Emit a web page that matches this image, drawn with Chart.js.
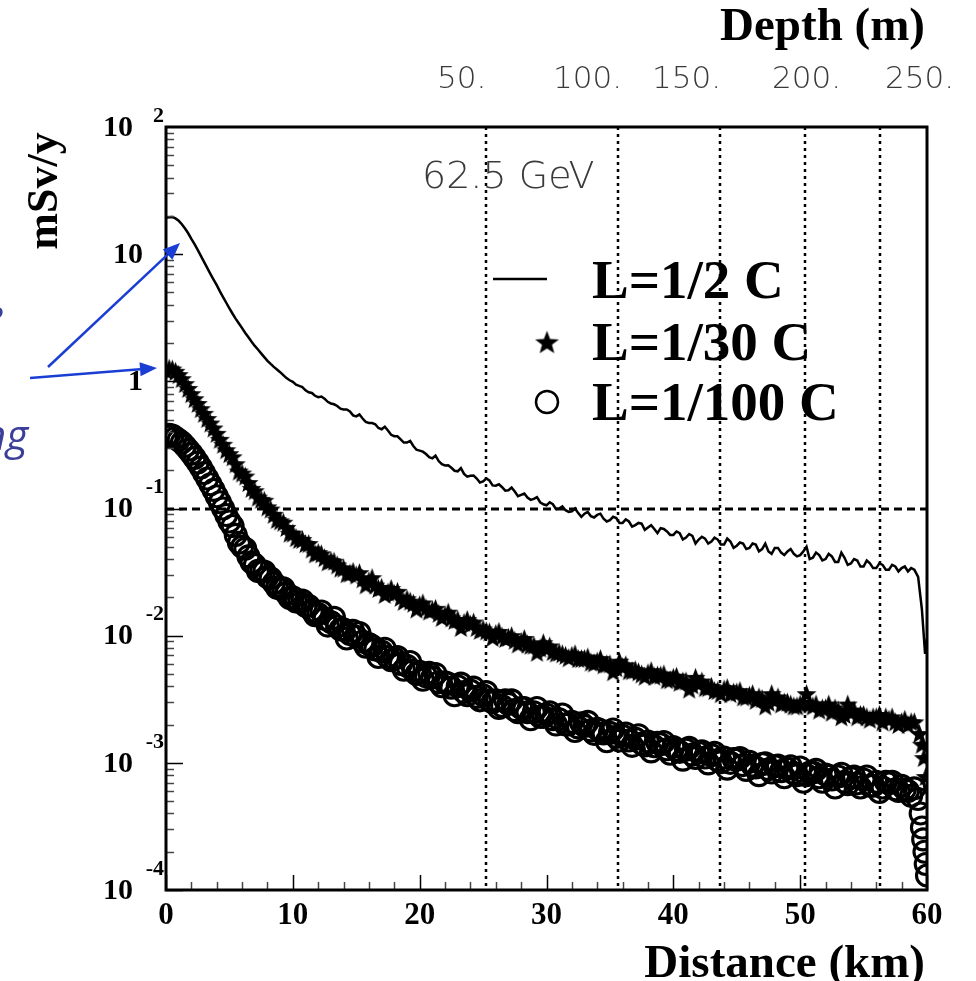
<!DOCTYPE html>
<html><head><meta charset="utf-8">
<script src="https://cdn.jsdelivr.net/npm/chart.js@4.4.1/dist/chart.umd.min.js"></script>
<style>html,body{margin:0;padding:0;background:#fff;overflow:hidden}canvas{display:block}</style>
</head><body>
<canvas id="c" width="976" height="981"></canvas>
<script>
// ---- data ----
const seriesNames = ['L=1/2 C', 'L=1/30 C', 'L=1/100 C'];
const distanceKm = [
 0,0.5,1,1.5,2,2.5,3,3.5,4,4.5,5,5.5,6,6.5,7,7.5,8,8.5,9,9.5,
 10,10.5,11,11.5,12,12.5,13,13.5,14,14.5,15,15.5,16,16.5,17,17.5,18,18.5,19,19.5,
 20,20.5,21,21.5,22,22.5,23,23.5,24,24.5,25,25.5,26,26.5,27,27.5,28,28.5,29,29.5,
 30,30.5,31,31.5,32,32.5,33,33.5,34,34.5,35,35.5,36,36.5,37,37.5,38,38.5,39,39.5,
 40,40.5,41,41.5,42,42.5,43,43.5,44,44.5,45,45.5,46,46.5,47,47.5,48,48.5,49,49.5,
 50,50.5,51,51.5,52,52.5,53,53.5,54,54.5,55,55.5,56,56.5,57,57.5,58,58.5,59];
const distanceKmB = [
 0.25,0.75,1.25,1.75,2.25,2.75,3.25,3.75,4.25,4.75,5.25,5.75,6.25,6.75,7.25,7.75,8.25,8.75,9.25,9.75,
 10.25,10.75,11.25,11.75,12.25,12.75,13.25,13.75,14.25,14.75,15.25,15.75,16.25,16.75,17.25,17.75,18.25,18.75,19.25,19.75,
 20.25,20.75,21.25,21.75,22.25,22.75,23.25,23.75,24.25,24.75,25.25,25.75,26.25,26.75,27.25,27.75,28.25,28.75,29.25,29.75,
 30.25,30.75,31.25,31.75,32.25,32.75,33.25,33.75,34.25,34.75,35.25,35.75,36.25,36.75,37.25,37.75,38.25,38.75,39.25,39.75,
 40.25,40.75,41.25,41.75,42.25,42.75,43.25,43.75,44.25,44.75,45.25,45.75,46.25,46.75,47.25,47.75,48.25,48.75,49.25,49.75,
 50.25,50.75,51.25,51.75,52.25,52.75,53.25,53.75,54.25,54.75,55.25,55.75,56.25,56.75,57.25,57.75,58.25,58.75];

const doseHalfC = [
 19.3,19.6,18.3,15.9,13.2,10.8,8.7,7.0,5.7,4.6,3.75,3.1,2.62,2.22,1.9,1.66,1.45,1.3,1.18,1.06,
 0.99,0.92,0.85,0.81,0.75,0.73,0.67,0.64,0.6,0.58,0.53,0.51,0.47,0.46,0.42,0.41,0.37,0.35,0.33,0.31,
 0.285,0.268,0.248,0.236,0.218,0.209,0.196,0.187,0.181,0.172,0.163,0.166,0.151,0.147,0.139,0.136,0.128,0.122,0.119,0.112,
 0.106,0.108,0.100,0.097,0.095,0.092,0.091,0.087,0.089,0.083,0.081,0.084,0.077,0.079,0.074,0.076,0.071,0.069,0.070,0.066,
 0.062,0.064,0.059,0.061,0.057,0.058,0.055,0.057,0.052,0.055,0.051,0.053,0.049,0.052,0.048,0.046,0.049,0.045,0.046,0.044,
 0.043,0.050,0.041,0.043,0.040,0.042,0.038,0.041,0.037,0.039,0.035,0.037,0.034,0.036,0.033,0.035,0.034,0.032,0.033];
const doseHalfCB = [
 19.5,19.1,17.2,14.6,12.0,9.7,7.8,6.3,5.1,4.15,3.4,2.85,2.4,2.05,1.78,1.55,1.37,1.24,1.12,1.02,
 0.94,0.9,0.82,0.77,0.76,0.69,0.66,0.61,0.6,0.54,0.55,0.48,0.47,0.43,0.44,0.38,0.37,0.33,0.34,0.29,
 0.28,0.253,0.26,0.223,0.219,0.198,0.208,0.178,0.182,0.16,0.172,0.152,0.155,0.138,0.146,0.125,0.131,0.117,0.123,0.108,
 0.112,0.099,0.104,0.094,0.1,0.086,0.094,0.085,0.091,0.079,0.086,0.077,0.082,0.072,0.077,0.068,0.074,0.064,0.069,0.062,
 0.066,0.057,0.063,0.053,0.06,0.053,0.059,0.052,0.058,0.049,0.054,0.048,0.053,0.046,0.053,0.044,0.049,0.043,0.048,0.042,
 0.046,0.040,0.045,0.039,0.044,0.038,0.045,0.036,0.040,0.035,0.039,0.034,0.037,0.033,0.036,0.032,0.035,0.034];
const tailKmHalfC = [59.3, 59.6, 59.85, 60];
const tailHalfC = [0.029, 0.016, 0.0072, 0.0095];

const doseThirtiethC = [
 1.22,1.25,1.13,0.96,0.8,0.67,0.56,0.47,0.39,0.32,0.27,0.225,0.19,0.16,0.138,0.118,0.103,0.09,0.08,0.071,
 0.064,0.057,0.053,0.048,0.045,0.041,0.039,0.036,0.034,0.031,0.030,0.028,0.027,0.025,0.024,0.022,0.0215,0.020,0.0195,0.018,
 0.0175,0.0165,0.016,0.015,0.0146,0.0138,0.0134,0.0127,0.0123,0.0116,0.0113,0.0107,0.0104,0.0099,0.0097,0.0092,0.0090,0.0086,0.0084,0.0080,
 0.0079,0.0075,0.0074,0.0070,0.0070,0.0066,0.0066,0.0062,0.0063,0.0059,0.0060,0.0056,0.0057,0.0053,0.0054,0.0050,0.0051,0.0048,0.0049,0.0045,
 0.0047,0.0043,0.0044,0.0041,0.0042,0.0039,0.0040,0.0037,0.0038,0.0035,0.0036,0.0033,0.0034,0.0031,0.0032,0.0030,0.0031,0.0029,0.0030,0.0028,
 0.0029,0.0035,0.0028,0.0026,0.0027,0.0025,0.0026,0.0024,0.0025,0.0023,0.0024,0.0022,0.0023,0.0021,0.0022,0.0021,0.0021,0.0020,0.0021];
const doseThirtiethCB = [
 1.27,1.2,1.05,0.88,0.73,0.61,0.51,0.43,0.35,0.29,0.255,0.197,0.180,0.144,0.123,0.116,0.099,0.082,0.078,0.064,
 0.059,0.057,0.053,0.044,0.044,0.038,0.0385,0.034,0.0307,0.032,0.0313,0.0251,0.0286,0.0235,0.0211,0.0235,0.0223,0.0186,0.0187,0.0162,
 0.0181,0.0156,0.0164,0.0139,0.0153,0.0132,0.0116,0.0134,0.0128,0.0110,0.0109,0.0097,0.0108,0.0095,0.0100,0.0086,0.0095,0.0084,0.0074,0.0088,
 0.0083,0.0073,0.0072,0.0067,0.0072,0.0066,0.0068,0.0061,0.0066,0.0060,0.0052,0.0063,0.0059,0.0053,0.0052,0.0048,0.0053,0.0049,0.0050,0.0045,
 0.0048,0.0044,0.0038,0.0047,0.0044,0.0039,0.0037,0.0035,0.0039,0.0036,0.0037,0.0033,0.0035,0.0033,0.0028,0.0035,0.0033,0.0030,0.0029,0.0028,
 0.0030,0.0029,0.0029,0.0027,0.0029,0.0027,0.0023,0.0029,0.0026,0.0024,0.0023,0.0023,0.0024,0.0023,0.0023,0.0020,0.0022,0.0021];
const tailKmThirtiethC = [59.4, 59.6, 59.75, 59.9];
const tailThirtiethC = [0.0017, 0.0014, 0.0011, 0.00078];

const doseHundredthC = [
 0.37,0.375,0.345,0.31,0.27,0.23,0.19,0.155,0.125,0.1,0.079,0.062,0.05,0.042,0.036,0.032,0.029,0.026,0.0235,0.0215,
 0.020,0.0185,0.0172,0.0158,0.0148,0.0136,0.0128,0.0118,0.0112,0.0103,0.0098,0.0090,0.0086,0.0078,0.0075,0.0068,0.0066,0.0060,0.0058,0.0053,
 0.0052,0.0048,0.0047,0.0043,0.0043,0.0039,0.0040,0.0036,0.0037,0.0033,0.0034,0.0031,0.0031,0.0028,0.0029,0.0026,0.0027,0.0025,0.0025,0.0023,
 0.0024,0.0022,0.0022,0.0020,0.0021,0.0019,0.00195,0.0018,0.00185,0.0017,0.00172,0.0016,0.00163,0.0015,0.00155,0.00142,0.00147,0.00135,0.0014,0.00128,
 0.00133,0.00122,0.00127,0.00116,0.0012,0.0011,0.00115,0.00105,0.0011,0.001,0.00106,0.00096,0.00102,0.00092,0.00098,0.00089,0.00094,0.00086,0.0009,0.00083,
 0.00092,0.0008,0.00084,0.00077,0.00081,0.00074,0.00078,0.00071,0.00076,0.00069,0.00074,0.00066,0.00071,0.00064,0.00069,0.00062,0.00066,0.0006,0.00063];
const doseHundredthCB = [
 0.38,0.36,0.33,0.29,0.25,0.21,0.172,0.14,0.112,0.089,0.0728,0.0538,0.0483,0.0378,0.0323,0.0320,0.0283,0.0238,0.0236,0.0198,
 0.0186,0.0189,0.0172,0.0145,0.0155,0.0120,0.0138,0.0112,0.0095,0.0109,0.0105,0.0082,0.0083,0.0068,0.0079,0.0064,0.0068,0.0054,0.0062,0.0050,
 0.0045,0.0051,0.0050,0.0040,0.0042,0.0034,0.0042,0.0034,0.0039,0.0031,0.0036,0.0030,0.0027,0.0031,0.0031,0.0025,0.0027,0.0022,0.0027,0.0023,
 0.0025,0.0020,0.0024,0.0020,0.00178,0.00205,0.0021,0.00169,0.0018,0.00148,0.00183,0.0015,0.0017,0.00136,0.00165,0.00137,0.00123,0.00144,0.00146,0.00118,
 0.00126,0.00106,0.00131,0.00109,0.00123,0.00099,0.0012,0.00101,0.0009,0.00107,0.00109,0.00088,0.00095,0.0008,0.00099,0.00084,0.00095,0.00077,0.00094,0.0008,
 0.00071,0.00084,0.00088,0.00071,0.00079,0.00064,0.00082,0.00068,0.00078,0.00064,0.00078,0.00066,0.00059,0.00071,0.00071,0.0006,0.00062,0.00055];
const tailKmHundredthC = [59.3, 59.5, 59.6, 59.7, 59.8, 59.9, 60];
const tailHundredthC = [0.00052, 0.0004, 0.00031, 0.00025, 0.0002, 0.00016, 0.00013];

const depthLineKm = [25.2, 35.6, 43.7, 50.4, 56.3];
const depthLabels = ['50.', '100.', '150.', '200.', '250.'];
const referenceDose = 0.1;
const xTickValues = [0, 10, 20, 30, 40, 50, 60];
const xTickLabels = ['0', '10', '20', '30', '40', '50', '60'];
const yDecadeValues = [1e-4, 1e-3, 1e-2, 1e-1, 1, 10, 100];
const yDecadeBase = ['10', '10', '10', '10', '1', '10', '10'];
const yDecadeExp = ['-4', '-3', '-2', '-1', '', '', '2'];
const energyLabel = '62.5 GeV';
const xTitle = 'Distance (km)';
const yTitle = 'mSv/y';
const topTitle = 'Depth (m)';

// ---- helpers ----
function pts(xa, ya, xb, yb, tx, ty) {
  const out = xa.map((x, i) => ({x: x, y: ya[i]}));
  xb.forEach((x, i) => out.push({x: x, y: yb[i]}));
  tx.forEach((x, i) => out.push({x: x, y: ty[i]}));
  out.sort((p, q) => p.x - q.x);
  return out;
}
function makeStar(size) {
  const c = document.createElement('canvas');
  c.width = c.height = size;
  const g = c.getContext('2d');
  g.fillStyle = '#000';
  g.beginPath();
  const R = size / 2, r = R * 0.42;
  for (let i = 0; i < 10; i++) {
    const a = -Math.PI / 2 + i * Math.PI / 5;
    const rad = i % 2 ? r : R;
    const px = R + rad * Math.cos(a), py = R + rad * Math.sin(a) + R * 0.1;
    if (i) g.lineTo(px, py); else g.moveTo(px, py);
  }
  g.closePath();
  g.fill();
  return c;
}
const starImg = makeStar(21);
const starLegendImg = makeStar(25);
const SERIF = "'Liberation Serif', 'Times New Roman', serif";

const annot = {
  id: 'annot',
  beforeDatasetsDraw(chart) {
    const {ctx, chartArea: a, scales: {x, y}} = chart;
    ctx.save();
    ctx.strokeStyle = '#000';
    ctx.lineWidth = 2.5;
    ctx.setLineDash([3, 4]);
    depthLineKm.forEach(k => {
      const px = Math.round(x.getPixelForValue(k));
      ctx.beginPath(); ctx.moveTo(px, a.top); ctx.lineTo(px, a.bottom); ctx.stroke();
    });
    ctx.setLineDash([8, 5]);
    ctx.lineWidth = 3;
    const py = Math.round(y.getPixelForValue(referenceDose));
    ctx.beginPath(); ctx.moveTo(a.left, py); ctx.lineTo(a.right, py); ctx.stroke();
    ctx.restore();
  },
  afterDatasetsDraw(chart) {
    const {ctx, chartArea: a, scales: {x, y}} = chart;
    ctx.save();
    ctx.lineWidth = 1.5;
    for (let d = -4; d <= 1; d++) {
      for (let m = 1; m <= 9; m++) {
        const v = m * Math.pow(10, d);
        const py = Math.round(y.getPixelForValue(v)) + 0.5;
        const len = m === 1 ? 17 : 8;
        ctx.strokeStyle = m === 1 ? '#000' : '#444';
        ctx.beginPath(); ctx.moveTo(a.left, py); ctx.lineTo(a.left + len, py); ctx.stroke();
      }
    }
    for (let k = 0; k <= 60; k += 2) {
      const px = Math.round(x.getPixelForValue(k)) + 0.5;
      const len = k % 10 === 0 ? 15 : 8;
      ctx.strokeStyle = k % 10 === 0 ? '#000' : '#444';
      ctx.beginPath(); ctx.moveTo(px, a.bottom); ctx.lineTo(px, a.bottom - len); ctx.stroke();
    }
    ctx.strokeStyle = '#000';
    ctx.lineWidth = 3;
    ctx.strokeRect(a.left, a.top, a.right - a.left, a.bottom - a.top);
    ctx.restore();
  },
  afterDraw(chart) {
    const {ctx, scales: {y}} = chart;
    const ds = chart.data.datasets;
    ctx.save();
    ctx.fillStyle = '#000';
    yDecadeValues.forEach((v, i) => {
      const py = y.getPixelForValue(v);
      ctx.textBaseline = 'middle';
      ctx.textAlign = 'right';
      ctx.font = 'bold 30px ' + SERIF;
      if (yDecadeExp[i] === '') {
        ctx.fillText(yDecadeBase[i], 143, py + 1);
      } else {
        ctx.fillText(yDecadeBase[i], 133, py + 1);
        ctx.font = 'bold 22px ' + SERIF;
        ctx.fillText(yDecadeExp[i], 164, Math.max(py - 21, 116));
      }
    });
    ctx.textBaseline = 'alphabetic';
    ctx.textAlign = 'right';
    ctx.font = 'bold 47px ' + SERIF;
    ctx.fillText(xTitle, 925, 977);
    ctx.fillText(topTitle, 925, 40);
    ctx.save();
    ctx.translate(57, 191);
    ctx.rotate(-Math.PI / 2);
    ctx.textAlign = 'center';
    ctx.font = 'bold 44px ' + SERIF;
    ctx.fillText(yTitle, 0, 0);
    ctx.restore();
    ctx.textAlign = 'left';
    ctx.fillStyle = '#3a3a3a';
    ctx.font = "200 31px 'DejaVu Sans'";
    const depthX = [437, 553, 652, 772, 885];
    depthLabels.forEach((t, i) => ctx.fillText(t, depthX[i], 88));
    ctx.font = "200 38px 'DejaVu Sans'";
    ctx.fillText(energyLabel, 422, 188);
    // legend
    ctx.fillStyle = '#000';
    ctx.strokeStyle = '#000';
    ctx.lineWidth = ds[0].borderWidth;
    ctx.beginPath(); ctx.moveTo(493, 279); ctx.lineTo(547, 279); ctx.stroke();
    ctx.drawImage(starLegendImg, 547 - 12.5, 342 - 12.5);
    ctx.lineWidth = 2.5;
    ctx.beginPath(); ctx.arc(547, 402, 11, 0, Math.PI * 2); ctx.stroke();
    ctx.font = 'bold 55px ' + SERIF;
    ctx.fillText(seriesNames[0], 592, 298);
    ctx.fillText(seriesNames[1], 592, 360);
    ctx.fillText(seriesNames[2], 592, 420);
    // blue annotations
    function arrow(x0, y0, x1, y1) {
      const ang = Math.atan2(y1 - y0, x1 - x0);
      const hl = 17, hw = 7;
      const bx = x1 - hl * Math.cos(ang), by = y1 - hl * Math.sin(ang);
      ctx.beginPath(); ctx.moveTo(x0, y0); ctx.lineTo(bx, by); ctx.stroke();
      ctx.beginPath();
      ctx.moveTo(x1, y1);
      ctx.lineTo(bx + hw * Math.sin(ang), by - hw * Math.cos(ang));
      ctx.lineTo(bx - hw * Math.sin(ang), by + hw * Math.cos(ang));
      ctx.closePath(); ctx.fill();
    }
    ctx.strokeStyle = '#1a3ed4';
    ctx.fillStyle = '#1a3ed4';
    ctx.lineWidth = 2.5;
    arrow(48, 367, 180, 243);
    arrow(30, 378, 157, 368);
    ctx.fillStyle = '#3c3f99';
    ctx.textAlign = 'right';
    ctx.font = "italic 42px 'Open Sans'";
    ctx.fillText('ng', 28, 450);
    ctx.fillText('e', 4, 330);
    ctx.restore();
  }
};

new Chart(document.getElementById('c'), {
  type: 'scatter',
  data: {
    datasets: [
      {label: seriesNames[0], data: pts(distanceKm, doseHalfC, distanceKmB, doseHalfCB, tailKmHalfC, tailHalfC),
       showLine: true, borderColor: '#000', borderWidth: 2.5, pointRadius: 0, tension: 0, fill: false},
      {label: seriesNames[1], data: pts(distanceKm, doseThirtiethC, distanceKmB, doseThirtiethCB, tailKmThirtiethC, tailThirtiethC),
       showLine: false, pointStyle: starImg, pointRadius: 10, borderColor: '#000', backgroundColor: '#000'},
      {label: seriesNames[2], data: pts(distanceKm, doseHundredthC, distanceKmB, doseHundredthCB, tailKmHundredthC, tailHundredthC),
       showLine: false, pointStyle: 'circle', pointRadius: 10.5, pointBorderWidth: 3.1,
       pointBorderColor: '#000', pointBackgroundColor: 'rgba(0,0,0,0)'}
    ]
  },
  options: {
    responsive: false,
    animation: false,
    devicePixelRatio: 1,
    layout: {padding: {left: 166, right: 49, top: 127, bottom: 0}},
    plugins: {legend: {display: false}, tooltip: {enabled: false}},
    scales: {
      x: {
        type: 'linear', min: 0, max: 60, position: 'bottom',
        afterBuildTicks(s) { s.ticks = xTickValues.map(v => ({value: v})); },
        afterFit(s) { s.height = 91; },
        grid: {display: false, drawTicks: false},
        border: {display: false},
        ticks: {
          autoSkip: false, maxRotation: 0, padding: 7, color: '#000',
          font: {family: SERIF, size: 31, weight: 'bold'},
          callback: (v) => { const i = xTickValues.indexOf(v); return i >= 0 ? xTickLabels[i] : ''; }
        }
      },
      y: {type: 'logarithmic', min: 1e-4, max: 100, display: false}
    }
  },
  plugins: [annot]
});
</script>
</body></html>
